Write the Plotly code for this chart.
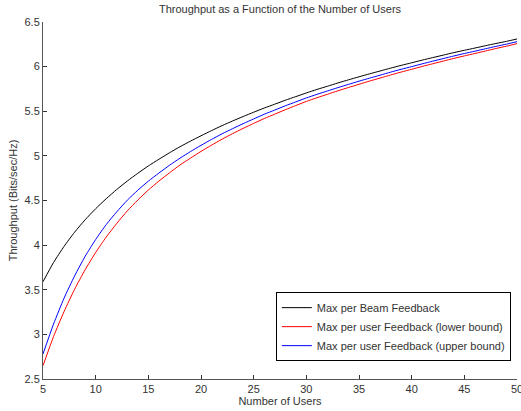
import plotly.graph_objects as go

users = list(range(5, 51))
beam_feedback = [3.590, 3.805, 3.986, 4.145, 4.284, 4.408, 4.520, 4.623, 4.718, 4.805,
                 4.887, 4.962, 5.034, 5.102, 5.165, 5.225, 5.283, 5.339, 5.391, 5.441,
                 5.489, 5.536, 5.579, 5.623, 5.664, 5.705, 5.744, 5.780, 5.817, 5.852,
                 5.886, 5.919, 5.951, 5.983, 6.014, 6.043, 6.073, 6.101, 6.129, 6.157,
                 6.183, 6.208, 6.234, 6.259, 6.283, 6.310]
user_lower = [2.650, 2.975, 3.256, 3.505, 3.724, 3.918, 4.090, 4.243, 4.383, 4.505,
              4.617, 4.717, 4.809, 4.897, 4.975, 5.050, 5.120, 5.187, 5.249, 5.308,
              5.364, 5.418, 5.467, 5.517, 5.564, 5.610, 5.651, 5.690, 5.729, 5.766,
              5.802, 5.838, 5.872, 5.906, 5.939, 5.970, 6.002, 6.032, 6.062, 6.092,
              6.120, 6.147, 6.175, 6.203, 6.229, 6.258]
user_upper = [2.780, 3.115, 3.406, 3.655, 3.874, 4.063, 4.230, 4.373, 4.503, 4.615,
              4.717, 4.807, 4.894, 4.974, 5.048, 5.118, 5.184, 5.247, 5.305, 5.361,
              5.414, 5.466, 5.513, 5.561, 5.605, 5.649, 5.689, 5.727, 5.765, 5.801,
              5.837, 5.871, 5.904, 5.938, 5.970, 6.000, 6.031, 6.061, 6.090, 6.119,
              6.147, 6.173, 6.200, 6.227, 6.252, 6.280]

names = ["Max per Beam Feedback",
         "Max per user Feedback (lower bound)",
         "Max per user Feedback (upper bound)"]
x_ticks = [5, 10, 15, 20, 25, 30, 35, 40, 45, 50]
y_ticks = [2.5, 3, 3.5, 4, 4.5, 5, 5.5, 6, 6.5]

fig = go.Figure()
for y, name, col in [(beam_feedback, names[0], "#000000"),
                     (user_lower, names[1], "#ff0000"),
                     (user_upper, names[2], "#0000ff")]:
    fig.add_trace(go.Scatter(x=users, y=y, mode="lines", name=name,
                             line=dict(color=col, width=1, shape="spline", smoothing=0.6)))

axis_common = dict(showgrid=False, zeroline=False, showline=True, linecolor="#555555",
                   linewidth=1, ticks="inside", ticklen=4, tickcolor="#333333",
                   tickfont=dict(size=11, color="#333333"), mirror=False,
                   automargin=False, ticklabeloverflow="allow")

fig.update_layout(
    width=521, height=411,
    margin=dict(l=43, r=4, t=22, b=32),
    paper_bgcolor="white", plot_bgcolor="white",
    font=dict(family="Liberation Sans, Arial, sans-serif", size=11, color="#333333"),
    title=dict(text="Throughput as a Function of the Number of Users", xref="paper", x=0.5,
               xanchor="center", y=0.977, yanchor="middle", font=dict(size=11, color="#333333")),
    xaxis=dict(range=[5, 50], tickvals=x_ticks, ticktext=[str(v) for v in x_ticks],
               title=dict(text="Number of Users", standoff=0, font=dict(size=11)), **axis_common),
    yaxis=dict(range=[2.5, 6.5], tickvals=y_ticks, ticktext=[f"{v:g}" for v in y_ticks],
               title=dict(text="Throughput (Bits/sec/Hz)", standoff=4, font=dict(size=11)), **axis_common),
    legend=dict(x=0.987, y=0.05, xanchor="right", yanchor="bottom",
                bordercolor="#000000", borderwidth=1, bgcolor="white",
                font=dict(size=11, color="#333333"), tracegroupgap=0, itemwidth=30),
    showlegend=True,
)

fig.write_html("out.html", config={"displayModeBar": False},
               post_script="document.body.style.margin='0';")
